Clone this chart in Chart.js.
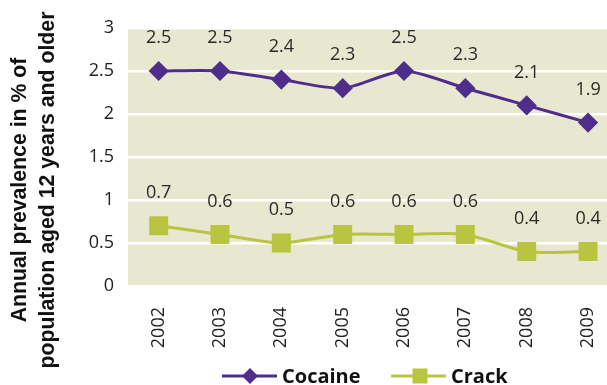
<!DOCTYPE html>
<html><head><meta charset="utf-8">
<script src="https://cdn.jsdelivr.net/npm/chart.js@4/dist/chart.umd.min.js"></script>
<style>html,body{margin:0;padding:0;background:#fff;overflow:hidden;width:607px;height:385px}
#wrap{width:633px;height:385px;position:relative}</style>
</head><body><div id="wrap"><canvas id="c" width="633" height="385"></canvas></div>
<script>
const years = ['2002','2003','2004','2005','2006','2007','2008','2009'];
const cocaine = [2.5, 2.5, 2.4, 2.3, 2.5, 2.3, 2.1, 1.9];
const crack = [0.7, 0.6, 0.5, 0.6, 0.6, 0.6, 0.4, 0.4];
const yTitle = ['Annual prevalence in % of', 'population aged 12 years and older'];

const PURPLE = '#4f2d8b';
const GREEN = '#b9c540';
const BG = '#e8e7cf';

const bgPlugin = {
  id: 'bgPlugin',
  beforeDraw(chart) {
    const a = chart.chartArea, ctx = chart.ctx;
    ctx.save(); ctx.fillStyle = BG;
    ctx.fillRect(a.left, a.top, a.right - a.left, a.bottom - a.top);
    ctx.restore();
  }
};
const titlePlugin = {
  id: 'titlePlugin',
  afterDraw(chart) {
    const ctx = chart.ctx;
    ctx.save();
    ctx.font = 'bold 19px "Liberation Sans"';
    const w = ctx.measureText(yTitle[1]).width;
    const size = 19 * 357 / w;
    ctx.font = 'bold ' + size.toFixed(2) + 'px "Liberation Sans"';
    ctx.fillStyle = '#111';
    ctx.textAlign = 'center'; ctx.textBaseline = 'middle';
    ctx.translate(0, 190);
    ctx.rotate(-Math.PI / 2);
    ctx.fillText(yTitle[0], 0, 20);
    ctx.fillText(yTitle[1], 0, 48);
    ctx.restore();
  }
};
const legendPlugin = {
  id: 'legendPlugin',
  afterDraw(chart) {
    const ctx = chart.ctx;
    const y = 376;
    const items = [
      { label: chart.data.datasets[0].label, color: PURPLE, x0: 222, x1: 277, mk: 250, tx: 282, style: 'diamond' },
      { label: chart.data.datasets[1].label, color: GREEN, x0: 391, x1: 446, mk: 420, tx: 451, style: 'square' }
    ];
    ctx.save();
    items.forEach(it => {
      ctx.strokeStyle = it.color; ctx.lineWidth = 3;
      ctx.beginPath(); ctx.moveTo(it.x0, y); ctx.lineTo(it.x1, y); ctx.stroke();
      ctx.fillStyle = it.color;
      if (it.style === 'diamond') {
        ctx.beginPath(); ctx.moveTo(it.mk, y - 8); ctx.lineTo(it.mk + 8, y); ctx.lineTo(it.mk, y + 8); ctx.lineTo(it.mk - 8, y); ctx.closePath(); ctx.fill();
      } else {
        ctx.fillRect(it.mk - 7.5, y - 7.5, 15, 15);
      }
      ctx.font = 'bold 20px "Open Sans"';
      ctx.fillStyle = '#111';
      ctx.textAlign = 'left'; ctx.textBaseline = 'middle';
      ctx.fillText(it.label, it.tx, y + 1);
    });
    ctx.restore();
  }
};
const labelPlugin = {
  id: 'labelPlugin',
  afterDatasetsDraw(chart) {
    const ctx = chart.ctx;
    ctx.save();
    ctx.font = '18px "Open Sans"';
    ctx.fillStyle = '#2a2a2a';
    ctx.textAlign = 'center'; ctx.textBaseline = 'middle';
    chart.data.datasets.forEach((ds, i) => {
      const meta = chart.getDatasetMeta(i);
      meta.data.forEach((pt, j) => {
        ctx.fillText(String(ds.data[j]), pt.x, pt.y - 33);
      });
    });
    ctx.restore();
  }
};

new Chart(document.getElementById('c'), {
  type: 'line',
  data: {
    labels: years,
    datasets: [
      { label: 'Cocaine', data: cocaine, borderColor: PURPLE, backgroundColor: PURPLE,
        borderWidth: 3, pointStyle: 'rectRot', pointRadius: 8, pointHoverRadius: 8, tension: 0.25 },
      { label: 'Crack', data: crack, borderColor: GREEN, backgroundColor: GREEN,
        borderWidth: 3, pointStyle: 'rect', pointRadius: 11.3, pointHoverRadius: 11.3, tension: 0.25 }
    ]
  },
  options: {
    responsive: false, animation: false,
    layout: { padding: { top: 28, left: 0, right: 0, bottom: 37 } },
    plugins: {
      tooltip: { enabled: false },
      legend: { display: false }
    },
    scales: {
      x: {
        offset: true,
        grid: { display: false },
        border: { display: false },
        ticks: { color: '#222', font: { family: '"Open Sans"', size: 18 }, maxRotation: 90, minRotation: 90, padding: 13 },
        afterFit(s) { s.height = 62; }
      },
      y: {
        min: 0, max: 3,
        ticks: { stepSize: 0.5, color: '#222', font: { family: '"Open Sans"', size: 18 }, padding: 14,
                 callback: (v) => String(v) },
        grid: { color: '#ffffff', lineWidth: 2.5, drawTicks: false },
        border: { display: false },
        afterFit(s) { s.width = 128; }
      }
    }
  },
  plugins: [bgPlugin, labelPlugin, titlePlugin, legendPlugin]
});
</script></body></html>
